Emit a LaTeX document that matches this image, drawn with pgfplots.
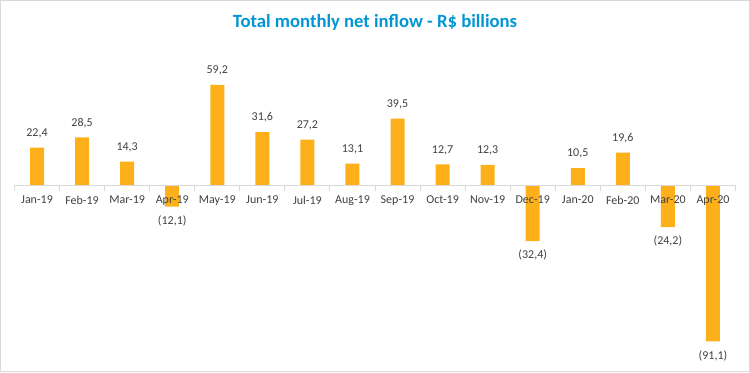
\documentclass[border=0pt]{standalone}
\usepackage{pgfplots}
\pgfplotsset{compat=1.18}
\usepackage{fontspec}
\setmainfont{Carlito}
\definecolor{barc}{RGB}{253,176,25}
\definecolor{titlec}{RGB}{0,150,214}
\definecolor{txt}{RGB}{64,64,64}
\definecolor{gridc}{RGB}{217,217,217}
\pgfplotstableread{
x y l
0 22.4 22,4
1 28.5 28,5
2 14.3 14,3
4 59.2 59,2
5 31.6 31,6
6 27.2 27,2
7 13.1 13,1
8 39.5 39,5
9 12.7 12,7
10 12.3 12,3
12 10.5 10,5
13 19.6 19,6
}\pos
\pgfplotstableread{
x y l
3 -12.1 (12,1)
11 -32.4 (32,4)
14 -24.2 (24,2)
15 -91.1 (91,1)
}\neg
\begin{document}
\begin{tikzpicture}
\draw[gridc, line width=0.75pt] (0.375pt,0.375pt) rectangle (562.125pt,278.625pt);
\node[titlec, font=\fontsize{14}{16}\selectfont\bfseries] at (281.25pt,262.5pt) {Total monthly net inflow - R\$ billions};
\begin{axis}[
 at={(10.875pt,241.875pt)}, anchor=north west,
 scale only axis, width=540.75pt, height=230.25pt,
 xmin=-0.5, xmax=15.5, ymin=-100, ymax=80,
 axis x line=middle, axis y line=none,
 x axis line style={-, gridc, line width=0.75pt},
 axis on top,
 clip=false,
 ybar, bar width=10.5pt, bar shift=0pt,
 xtick={0,...,15},
 xticklabels={Jan-19,Feb-19,Mar-19,Apr-19,May-19,Jun-19,Jul-19,Aug-19,Sep-19,Oct-19,Nov-19,Dec-19,Jan-20,Feb-20,Mar-20,Apr-20},
 major tick length=0pt,
 xticklabel style={font=\fontsize{9}{11}\selectfont, text=txt, anchor=north, inner sep=0pt, yshift=-7.5pt},
 extra x ticks={-0.5,0.5,...,15.5},
 extra x tick labels={},
 extra x tick style={major tick length=3.75pt, xtick align=outside, tick style={gridc, line width=0.75pt}},
 ytick=\empty,
 nodes near coords,
 point meta=explicit symbolic,
 every node near coord/.append style={font=\fontsize{9}{11}\selectfont, text=txt, inner sep=0pt},
]
\addplot[fill=barc, draw=none, nodes near coords style={anchor=south, yshift=7pt}] table[x=x,y=y,meta=l] {\pos};
\addplot[fill=barc, draw=none, nodes near coords style={anchor=north, yshift=-6.5pt}] table[x=x,y=y,meta=l] {\neg};
\end{axis}
\end{tikzpicture}
\end{document}
